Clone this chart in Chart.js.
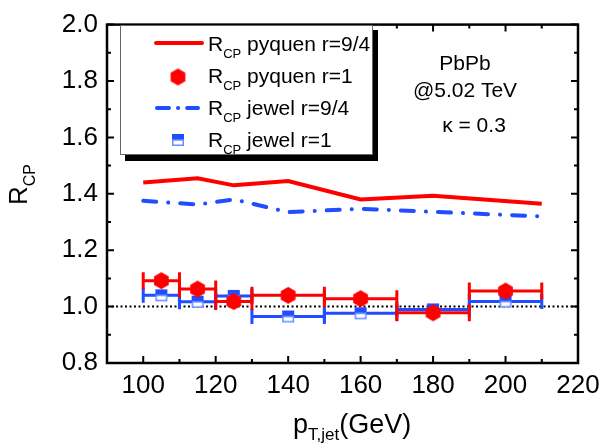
<!DOCTYPE html>
<html>
<head>
<meta charset="utf-8">
<script src="https://cdn.jsdelivr.net/npm/chart.js@4.4.1/dist/chart.umd.min.js"></script>
<style>
  html, body { margin: 0; padding: 0; background: #fff; }
  #wrap { width: 609px; height: 445px; }
</style>
</head>
<body>
<div id="wrap"><canvas id="rcpChart" width="609" height="445"></canvas></div>
<script>
const FONT = "'Liberation Sans', Arial, sans-serif";
const RED = '#ff0000';
const BLUE = '#1f4dff';
const BLUE_LIGHT = '#6a8cff';

// R_CP pyquen r=9/4 (solid red curve)
const pyquenCurveX = [100, 115, 125, 140, 160, 180, 210];
const pyquenCurveY = [1.44, 1.455, 1.43, 1.445, 1.38, 1.393, 1.365];
// R_CP jewel r=9/4 (blue dash-dot curve)
const jewelCurveX = [100, 115, 125, 140, 160, 180, 210];
const jewelCurveY = [1.375, 1.362, 1.38, 1.335, 1.347, 1.336, 1.32];

// r=1 points, with pT bin half widths
const binCenters = [105, 115, 125, 140, 160, 180, 200];
const binHalfWidths = [5, 5, 5, 10, 10, 10, 10];
const pyquenPoints = [1.092, 1.062, 1.018, 1.04, 1.028, 0.978, 1.055];
const jewelPoints = [1.04, 1.017, 1.038, 0.965, 0.976, 0.99, 1.018];

const xTicks = [100, 120, 140, 160, 180, 200, 220];
const xMinorTicks = [90, 110, 130, 150, 170, 190, 210];
const yTicks = [0.8, 1.0, 1.2, 1.4, 1.6, 1.8, 2.0];
const yMinorTicks = [0.9, 1.1, 1.3, 1.5, 1.7, 1.9];

const legendLabels = [' pyquen r=9/4', ' pyquen r=1', ' jewel r=9/4', ' jewel r=1'];
const noteLines = ['PbPb', '@5.02 TeV', 'κ = 0.3'];

function hexagonMarker(r, color) {
  const w = Math.ceil(Math.sqrt(3) * r) + 2;
  const h = Math.ceil(2 * r) + 2;
  const c = document.createElement('canvas');
  c.width = w; c.height = h;
  const g = c.getContext('2d');
  g.fillStyle = color;
  g.beginPath();
  for (let i = 0; i < 6; i++) {
    const a = Math.PI / 2 + i * Math.PI / 3;
    const px = w / 2 + r * Math.cos(a);
    const py = h / 2 - r * Math.sin(a);
    if (i) g.lineTo(px, py); else g.moveTo(px, py);
  }
  g.closePath();
  g.fill();
  return c;
}

function halfSquareMarker(s) {
  const c = document.createElement('canvas');
  c.width = s + 2; c.height = s + 2;
  const g = c.getContext('2d');
  g.fillStyle = '#fff';
  g.fillRect(1, 1, s, s);
  g.fillStyle = BLUE;
  g.fillRect(1, 1, s, s / 2);
  g.strokeStyle = BLUE_LIGHT;
  g.lineWidth = 1.5;
  g.strokeRect(1.75, 1 + s / 2, s - 1.5, s / 2 - 0.75);
  return c;
}

const hexImg = hexagonMarker(8.5, RED);
const squareImg = halfSquareMarker(12);

function errorBarData(values) {
  const pts = [];
  binCenters.forEach((c, i) => {
    pts.push({ x: c - binHalfWidths[i], y: values[i] });
    pts.push({ x: c + binHalfWidths[i], y: values[i] });
    pts.push({ x: c, y: null });
  });
  return pts;
}

const toPoints = (xs, ys) => xs.map((x, i) => ({ x: x, y: ys[i] }));

const decorPlugin = {
  id: 'decor',
  afterDatasetsDraw(chart) {
    const { ctx, chartArea: a, scales } = chart;
    const xs = scales.x, ys = scales.y;
    ctx.save();

    // frame + inward ticks on all four sides
    ctx.strokeStyle = '#000';
    ctx.lineWidth = 2.5;
    ctx.strokeRect(a.left, a.top, a.right - a.left, a.bottom - a.top);
    ctx.lineWidth = 2;
    ctx.beginPath();
    const xTick = (v, len) => {
      const px = xs.getPixelForValue(v);
      ctx.moveTo(px, a.bottom); ctx.lineTo(px, a.bottom - len);
      ctx.moveTo(px, a.top); ctx.lineTo(px, a.top + len);
    };
    const yTick = (v, len) => {
      const py = ys.getPixelForValue(v);
      ctx.moveTo(a.left, py); ctx.lineTo(a.left + len, py);
      ctx.moveTo(a.right, py); ctx.lineTo(a.right - len, py);
    };
    xTicks.forEach(v => xTick(v, 7));
    xMinorTicks.forEach(v => xTick(v, 4));
    yTicks.forEach(v => yTick(v, 7));
    yMinorTicks.forEach(v => yTick(v, 4));
    ctx.stroke();

    // legend box with drop shadow
    ctx.fillStyle = '#000';
    ctx.fillRect(125, 155, 253, 6);
    ctx.fillRect(373, 30, 5, 131);
    ctx.fillStyle = '#fff';
    ctx.fillRect(120, 25, 253, 130);
    ctx.strokeStyle = '#666';
    ctx.lineWidth = 1;
    ctx.strokeRect(120.5, 25.5, 252, 129);

    // legend samples
    ctx.lineCap = 'round';
    ctx.strokeStyle = RED;
    ctx.lineWidth = 4;
    ctx.beginPath(); ctx.moveTo(156, 43); ctx.lineTo(202, 43); ctx.stroke();
    ctx.drawImage(hexImg, 178 - hexImg.width / 2, 77 - hexImg.height / 2);
    ctx.strokeStyle = BLUE;
    ctx.setLineDash([12, 9, 0.1, 9]);
    ctx.beginPath(); ctx.moveTo(157, 108); ctx.lineTo(198, 108); ctx.stroke();
    ctx.setLineDash([]);
    ctx.drawImage(squareImg, 178 - squareImg.width / 2, 140 - squareImg.height / 2);

    // legend text
    ctx.fillStyle = '#000';
    ctx.textAlign = 'left';
    ctx.textBaseline = 'alphabetic';
    legendLabels.forEach((label, i) => {
      const base = 51 + i * 32;
      let x = 208;
      ctx.font = '21px ' + FONT;
      ctx.fillText('R', x, base);
      x += ctx.measureText('R').width;
      ctx.font = '13px ' + FONT;
      ctx.fillText('CP', x, base + 7);
      x += ctx.measureText('CP').width;
      ctx.font = '21px ' + FONT;
      ctx.fillText(label, x, base);
    });

    // annotation
    ctx.font = '21px ' + FONT;
    ctx.textAlign = 'center';
    ctx.fillText(noteLines[0], 465, 70);
    ctx.fillText(noteLines[1], 465, 97);
    ctx.fillText(noteLines[2], 474, 132);

    // x axis title
    ctx.textAlign = 'left';
    let tx = 293;
    ctx.font = '27px ' + FONT;
    ctx.fillText('p', tx, 433);
    tx += ctx.measureText('p').width;
    ctx.font = '17px ' + FONT;
    ctx.fillText('T,jet', tx, 440);
    tx += ctx.measureText('T,jet').width;
    ctx.font = '27px ' + FONT;
    ctx.fillText('(GeV)', tx, 433);

    // y axis title
    ctx.translate(27, 205);
    ctx.rotate(-Math.PI / 2);
    ctx.font = '26px ' + FONT;
    ctx.fillText('R', 0, 0);
    const rw = ctx.measureText('R').width;
    ctx.font = '16px ' + FONT;
    ctx.fillText('CP', rw, 8);

    ctx.restore();
  }
};

const ctx = document.getElementById('rcpChart').getContext('2d');

new Chart(ctx, {
  type: 'scatter',
  data: {
    datasets: [
      {
        label: 'pyquen r=1',
        data: toPoints(binCenters, pyquenPoints),
        pointStyle: hexImg,
        pointRadius: 9,
        showLine: false,
        order: 0
      },
      {
        label: 'pyquen r=1 bins',
        data: errorBarData(pyquenPoints),
        showLine: true,
        spanGaps: false,
        borderColor: RED,
        borderWidth: 3,
        pointStyle: 'line',
        rotation: 90,
        pointRadius: 8.5,
        pointBorderColor: RED,
        pointBorderWidth: 3,
        order: 1
      },
      {
        label: 'jewel r=1',
        data: toPoints(binCenters, jewelPoints),
        pointStyle: squareImg,
        pointRadius: 7,
        showLine: false,
        order: 2
      },
      {
        label: 'jewel r=1 bins',
        data: errorBarData(jewelPoints),
        showLine: true,
        spanGaps: false,
        borderColor: BLUE,
        borderWidth: 3,
        pointStyle: 'line',
        rotation: 90,
        pointRadius: 7.5,
        pointBorderColor: BLUE,
        pointBorderWidth: 3,
        order: 3
      },
      {
        label: 'pyquen r=9/4',
        data: toPoints(pyquenCurveX, pyquenCurveY),
        showLine: true,
        borderColor: RED,
        borderWidth: 4,
        pointRadius: 0,
        order: 4
      },
      {
        label: 'jewel r=9/4',
        data: toPoints(jewelCurveX, jewelCurveY),
        showLine: true,
        borderColor: BLUE,
        borderWidth: 4,
        borderDash: [13, 12, 0.1, 12],
        borderCapStyle: 'round',
        pointRadius: 0,
        order: 5
      },
      {
        label: 'unity',
        data: [{ x: 90, y: 1 }, { x: 220, y: 1 }],
        showLine: true,
        borderColor: '#000',
        borderWidth: 2,
        borderDash: [2, 2.5],
        pointRadius: 0,
        order: 6
      }
    ]
  },
  options: {
    responsive: false,
    animation: false,
    layout: { padding: { top: 16, right: 31, left: 0, bottom: 0 } },
    plugins: {
      legend: { display: false },
      tooltip: { enabled: false }
    },
    scales: {
      x: {
        type: 'linear',
        min: 90,
        max: 220,
        grid: { display: false, drawTicks: false },
        border: { display: false },
        afterBuildTicks: s => { s.ticks = xTicks.map(v => ({ value: v })); },
        afterFit: s => { s.height = 82; },
        ticks: {
          color: '#000',
          font: { family: FONT, size: 26 },
          padding: 7,
          maxRotation: 0,
          autoSkip: false,
          callback: v => String(v)
        }
      },
      y: {
        type: 'linear',
        min: 0.8,
        max: 2.0,
        grid: { display: false, drawTicks: false },
        border: { display: false },
        afterBuildTicks: s => { s.ticks = yTicks.map(v => ({ value: v })); },
        afterFit: s => { s.width = 107; },
        ticks: {
          color: '#000',
          font: { family: FONT, size: 26 },
          padding: 9,
          autoSkip: false,
          callback: v => v.toFixed(1)
        }
      }
    }
  },
  plugins: [decorPlugin]
});
</script>
</body>
</html>
